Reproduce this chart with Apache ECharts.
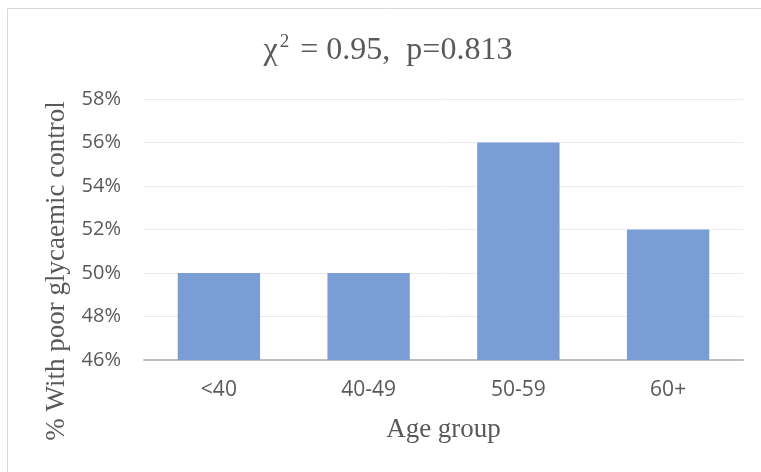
<!DOCTYPE html>
<html>
<head>
<meta charset="utf-8">
<script src="https://cdn.jsdelivr.net/npm/echarts@6/dist/echarts.min.js"></script>
<style>html,body{margin:0;padding:0;background:#fff}#c{width:761px;height:472px}</style>
</head>
<body>
<div id="c"></div>
<script>
var categories = ['<40', '40-49', '50-59', '60+'];
var values = [50, 50, 56, 52];
var titleMain = 'χ';
var titleSup = '2';
var titleRest = ' = 0.95,  p=0.813';
var xName = 'Age group';
var yName = '% With poor glycaemic control';

var chart = echarts.init(document.getElementById('c'));
chart.setOption({
  animation: false,
  graphic: [
    {type: 'rect', shape: {x: 7.5, y: 8.5, width: 800, height: 500}, style: {fill: 'none', stroke: '#d9d9d9', lineWidth: 1}, silent: true},
    {type: 'text', x: 388, y: 51, style: {
      text: '{a|' + titleMain + '}{s|' + titleSup + '}{a|' + titleRest + '}',
      align: 'center', verticalAlign: 'middle',
      rich: {
        a: {fontFamily: 'Liberation Serif', fontSize: 32, fill: '#595959', lineHeight: 36, padding: [0, 1, 0, 1]},
        s: {fontFamily: 'Liberation Serif', fontSize: 19, fill: '#595959', lineHeight: 36, verticalAlign: 'top', padding: [0, 2, 14, 1]}
      }
    }},
    {type: 'text', x: 57, y: 271, rotation: Math.PI / 2, style: {text: yName, fontFamily: 'Liberation Serif', fontSize: 27, fill: '#595959', align: 'center', verticalAlign: 'middle'}}
  ],
  grid: {left: 144, right: 18, top: 99, bottom: 112},
  xAxis: {
    type: 'category',
    data: categories,
    name: xName,
    nameLocation: 'middle',
    nameGap: 56,
    nameTextStyle: {fontFamily: 'Liberation Serif', fontSize: 27, color: '#595959'},
    axisLine: {lineStyle: {color: '#bfbfbf', width: 2}},
    axisTick: {show: false},
    axisLabel: {fontFamily: 'Open Sans', fontSize: 21, color: '#595959', margin: 20}
  },
  yAxis: {
    type: 'value',
    min: 46,
    max: 58,
    interval: 2,
    axisLine: {show: false},
    axisTick: {show: false},
    splitLine: {lineStyle: {color: '#ebebeb', width: 1}},
    axisLabel: {fontFamily: 'Open Sans', fontSize: 20, color: '#595959', margin: 23, formatter: '{value}%'}
  },
  series: [{
    type: 'bar',
    data: values,
    barWidth: '55%',
    itemStyle: {color: '#7a9dd6'}
  }]
});
</script>
</body>
</html>
